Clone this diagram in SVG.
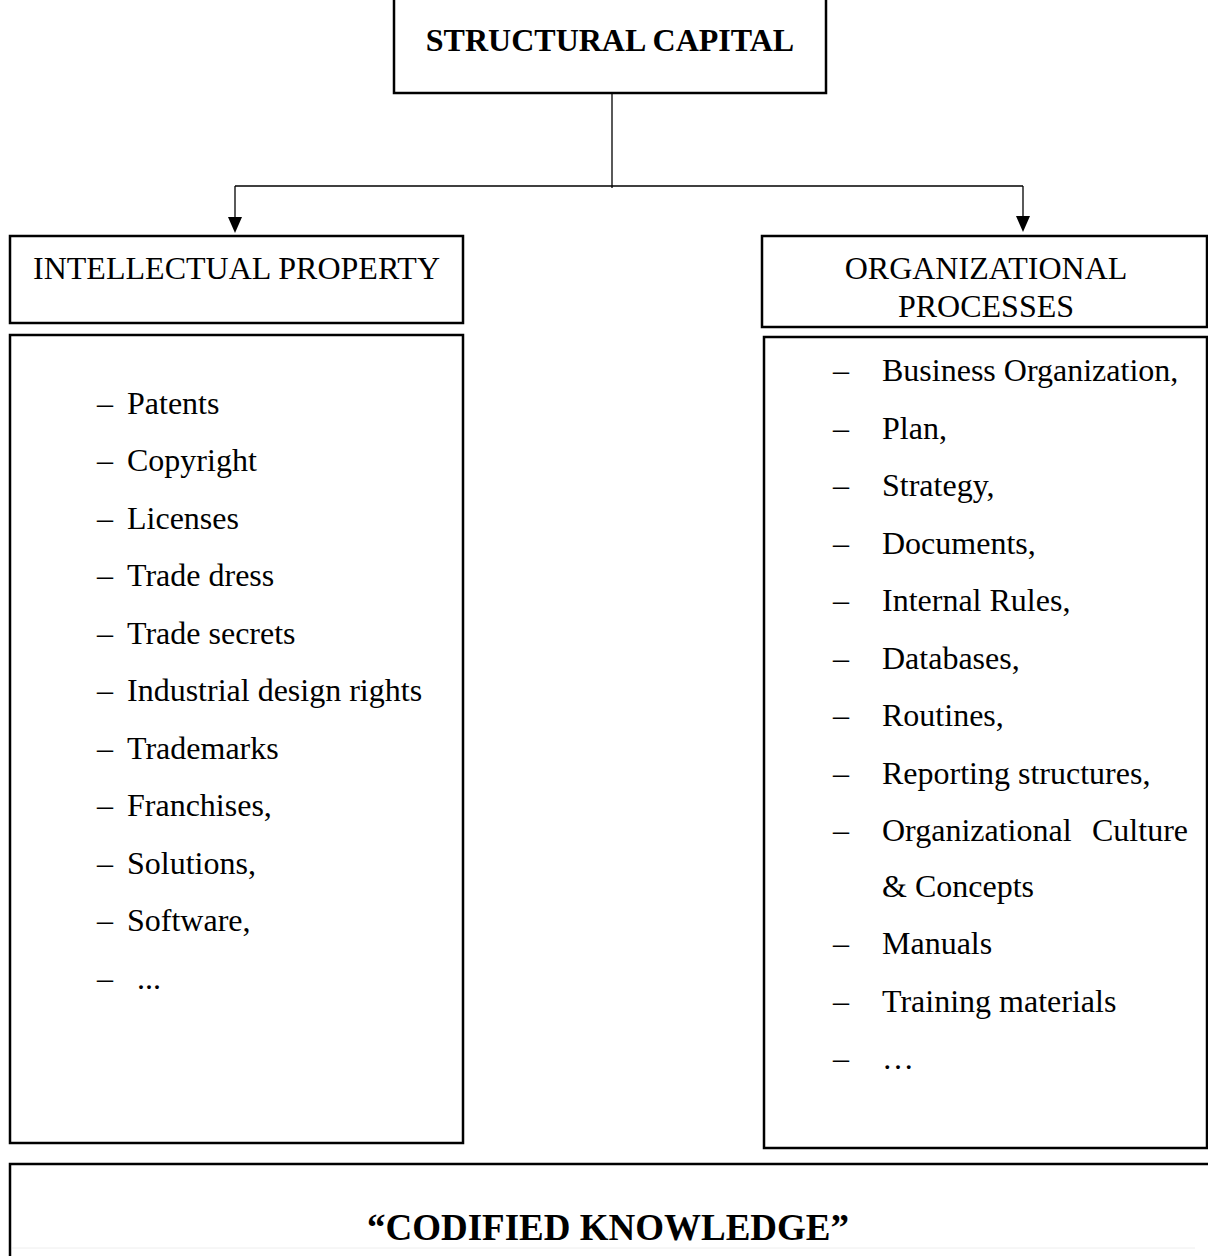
<svg xmlns="http://www.w3.org/2000/svg" width="1208" height="1256" viewBox="0 0 1208 1256">
<style>
.box{fill:#fff;stroke:#000;stroke-width:2.5}
.t{font-family:"Liberation Serif","Times New Roman",serif;font-size:32px;fill:#000}
.b{font-weight:bold}
.conn{stroke:#000;stroke-width:1.3;fill:none}
.arrow{fill:#000}
</style>
<rect width="1208" height="1256" fill="#fff"/>
<g id="connectors">
<line class="conn" x1="612" y1="93" x2="612" y2="188"/>
<line class="conn" x1="235" y1="186" x2="1023" y2="186"/>
<path class="conn" d="M235,186 V218"/>
<path class="arrow" d="M228,217 L242,217 L235,233 Z"/>
<path class="conn" d="M1023,186 V217"/>
<path class="arrow" d="M1016,216 L1030,216 L1023,232 Z"/>
</g>
<g id="structural-capital">
<rect class="box" x="394" y="-10" width="432" height="103"/>
<text class="t b" x="610" y="51" text-anchor="middle">STRUCTURAL CAPITAL</text>
</g>
<g id="intellectual-property">
<rect class="box" x="10" y="236" width="453" height="87"/>
<text class="t" x="33" y="279" textLength="407">INTELLECTUAL PROPERTY</text>
</g>
<g id="organizational-processes">
<rect class="box" x="762" y="236" width="445" height="91"/>
<text class="t" x="986" y="279" text-anchor="middle">ORGANIZATIONAL</text>
<text class="t" x="986" y="317" text-anchor="middle">PROCESSES</text>
</g>
<g id="ip-list">
<rect class="box" x="10" y="335" width="453" height="808"/>
<g class="t">
<text x="97" y="414">–</text><text x="127" y="414">Patents</text>
<text x="97" y="471">–</text><text x="127" y="471">Copyright</text>
<text x="97" y="529">–</text><text x="127" y="529">Licenses</text>
<text x="97" y="586">–</text><text x="127" y="586">Trade dress</text>
<text x="97" y="644">–</text><text x="127" y="644">Trade secrets</text>
<text x="97" y="701">–</text><text x="127" y="701">Industrial design rights</text>
<text x="97" y="759">–</text><text x="127" y="759">Trademarks</text>
<text x="97" y="816">–</text><text x="127" y="816">Franchises,</text>
<text x="97" y="874">–</text><text x="127" y="874">Solutions,</text>
<text x="97" y="931">–</text><text x="127" y="931">Software,</text>
<text x="97" y="989">–</text><text x="137" y="989">...</text>
</g>
</g>
<g id="op-list">
<rect class="box" x="764" y="337" width="443" height="811"/>
<g class="t">
<text x="833" y="381">–</text><text x="882" y="381">Business Organization,</text>
<text x="833" y="439">–</text><text x="882" y="439">Plan,</text>
<text x="833" y="496">–</text><text x="882" y="496">Strategy,</text>
<text x="833" y="554">–</text><text x="882" y="554">Documents,</text>
<text x="833" y="611">–</text><text x="882" y="611">Internal Rules,</text>
<text x="833" y="669">–</text><text x="882" y="669">Databases,</text>
<text x="833" y="726">–</text><text x="882" y="726">Routines,</text>
<text x="833" y="784">–</text><text x="882" y="784">Reporting structures,</text>
<text x="833" y="841">–</text><text x="882" y="841">Organizational</text><text x="1188" y="841" text-anchor="end">Culture</text>
<text x="882" y="897">&amp; Concepts</text>
<text x="833" y="954">–</text><text x="882" y="954">Manuals</text>
<text x="833" y="1012">–</text><text x="882" y="1012">Training materials</text>
<text x="833" y="1069">–</text><text x="882" y="1069">…</text>
</g>
</g>
<g id="codified-knowledge">
<rect class="box" x="10" y="1164" width="1210" height="110"/>
<line x1="12" y1="1248" x2="1195" y2="1248" stroke="#eee" stroke-width="1"/>
<text class="t b" x="608" y="1240" text-anchor="middle" style="font-size:37px">“CODIFIED KNOWLEDGE”</text>
</g>
</svg>
